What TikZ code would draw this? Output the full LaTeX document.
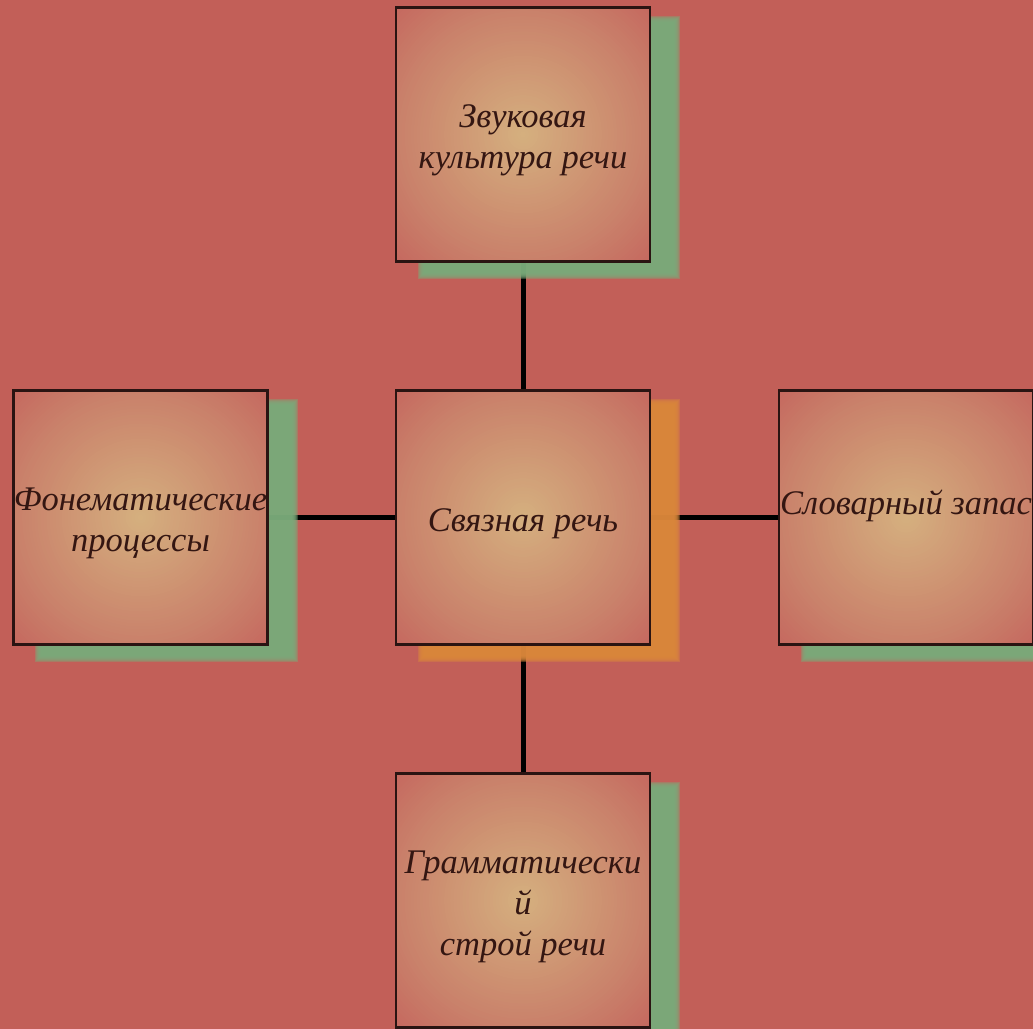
\documentclass[tikz,border=0pt]{standalone}
\usepackage{fontspec}
\setmainfont{Liberation Serif}
\usetikzlibrary{calc}
\definecolor{bgred}{HTML}{C25F58}
\definecolor{shgreen}{HTML}{7AAA7A}
\definecolor{shorange}{HTML}{DA873A}
\definecolor{boxline}{HTML}{2A1412}
\definecolor{txt}{HTML}{341612}
\definecolor{glowin}{HTML}{D5B07F}
\definecolor{glowedge}{HTML}{C9806A}
\definecolor{glowcorner}{HTML}{C5685F}
\pgfdeclarelayer{back}
\pgfdeclarelayer{lines}
\pgfdeclarelayer{shadows}
\pgfsetlayers{back,lines,shadows,main}
\newcommand{\softshadow}[2]{%
  \foreach \k in {-3,...,3}{%
    \fill[#2, opacity=0.4] ($(#1.north west)+(26+\k,13+\k)$) rectangle ($(#1.south east)+(26-\k,13-\k)$);
  }}
\newcommand{\glowfill}{%
  \foreach \i in {60,59,...,1}{%
    \pgfmathsetmacro\rr{182*\i/60}%
    \ifnum\i>42
      \pgfmathtruncatemacro\pd{100*(\i-42)/18}%
      \colorlet{glowcur}{glowcorner!\pd!glowedge}%
    \else
      \pgfmathtruncatemacro\pc{100*\i/42}%
      \colorlet{glowcur}{glowedge!\pc!glowin}%
    \fi
    \fill[glowcur] (path picture bounding box.center) circle (\rr pt);
  }}
\tikzset{
  box/.style={draw=boxline, line width=2.2pt, minimum width=254pt, minimum height=254pt,
    inner sep=0pt, path picture={\glowfill}},
  boxtext/.style={align=center, text=txt, inner sep=0pt, yshift=-6pt,
    font=\fontsize{34.5}{41}\selectfont\itshape},
  conn/.style={draw=black, line width=5pt}
}
\begin{document}
\begin{tikzpicture}[x=1pt, y=-1pt]
  \useasboundingbox (0,0) rectangle (1033,1028);
  \begin{pgfonlayer}{back}
    \fill[bgred] (-5,-5) rectangle (1040,1035);
  \end{pgfonlayer}
  \node[box, label={[boxtext, name=toptext]center:Звуковая\\культура речи}] (top) at (523,134.5) {};
  \node[box, label={[boxtext, name=midtext]center:Связная речь}] (mid) at (523,517.5) {};
  \node[box, label={[boxtext, name=lefttext]center:Фонематические\\процессы}] (left) at (140.5,517.5) {};
  \node[box, label={[boxtext, name=righttext, yshift=18pt]center:Словарный запас}] (right) at (906,517.5) {};
  \node[box, label={[boxtext, name=bottomtext]center:Грамматически\\й\\строй речи}] (bottom) at (523,900.5) {};
  \begin{pgfonlayer}{shadows}
    \softshadow{top}{shgreen}
    \softshadow{mid}{shorange}
    \softshadow{left}{shgreen}
    \softshadow{right}{shgreen}
    \softshadow{bottom}{shgreen}
  \end{pgfonlayer}
  \begin{pgfonlayer}{lines}
    \draw[conn] (top) -- (mid);
    \draw[conn] (mid) -- (bottom);
    \draw[conn] (left) -- (mid);
    \draw[conn] (mid) -- (right);
  \end{pgfonlayer}
\end{tikzpicture}
\end{document}
